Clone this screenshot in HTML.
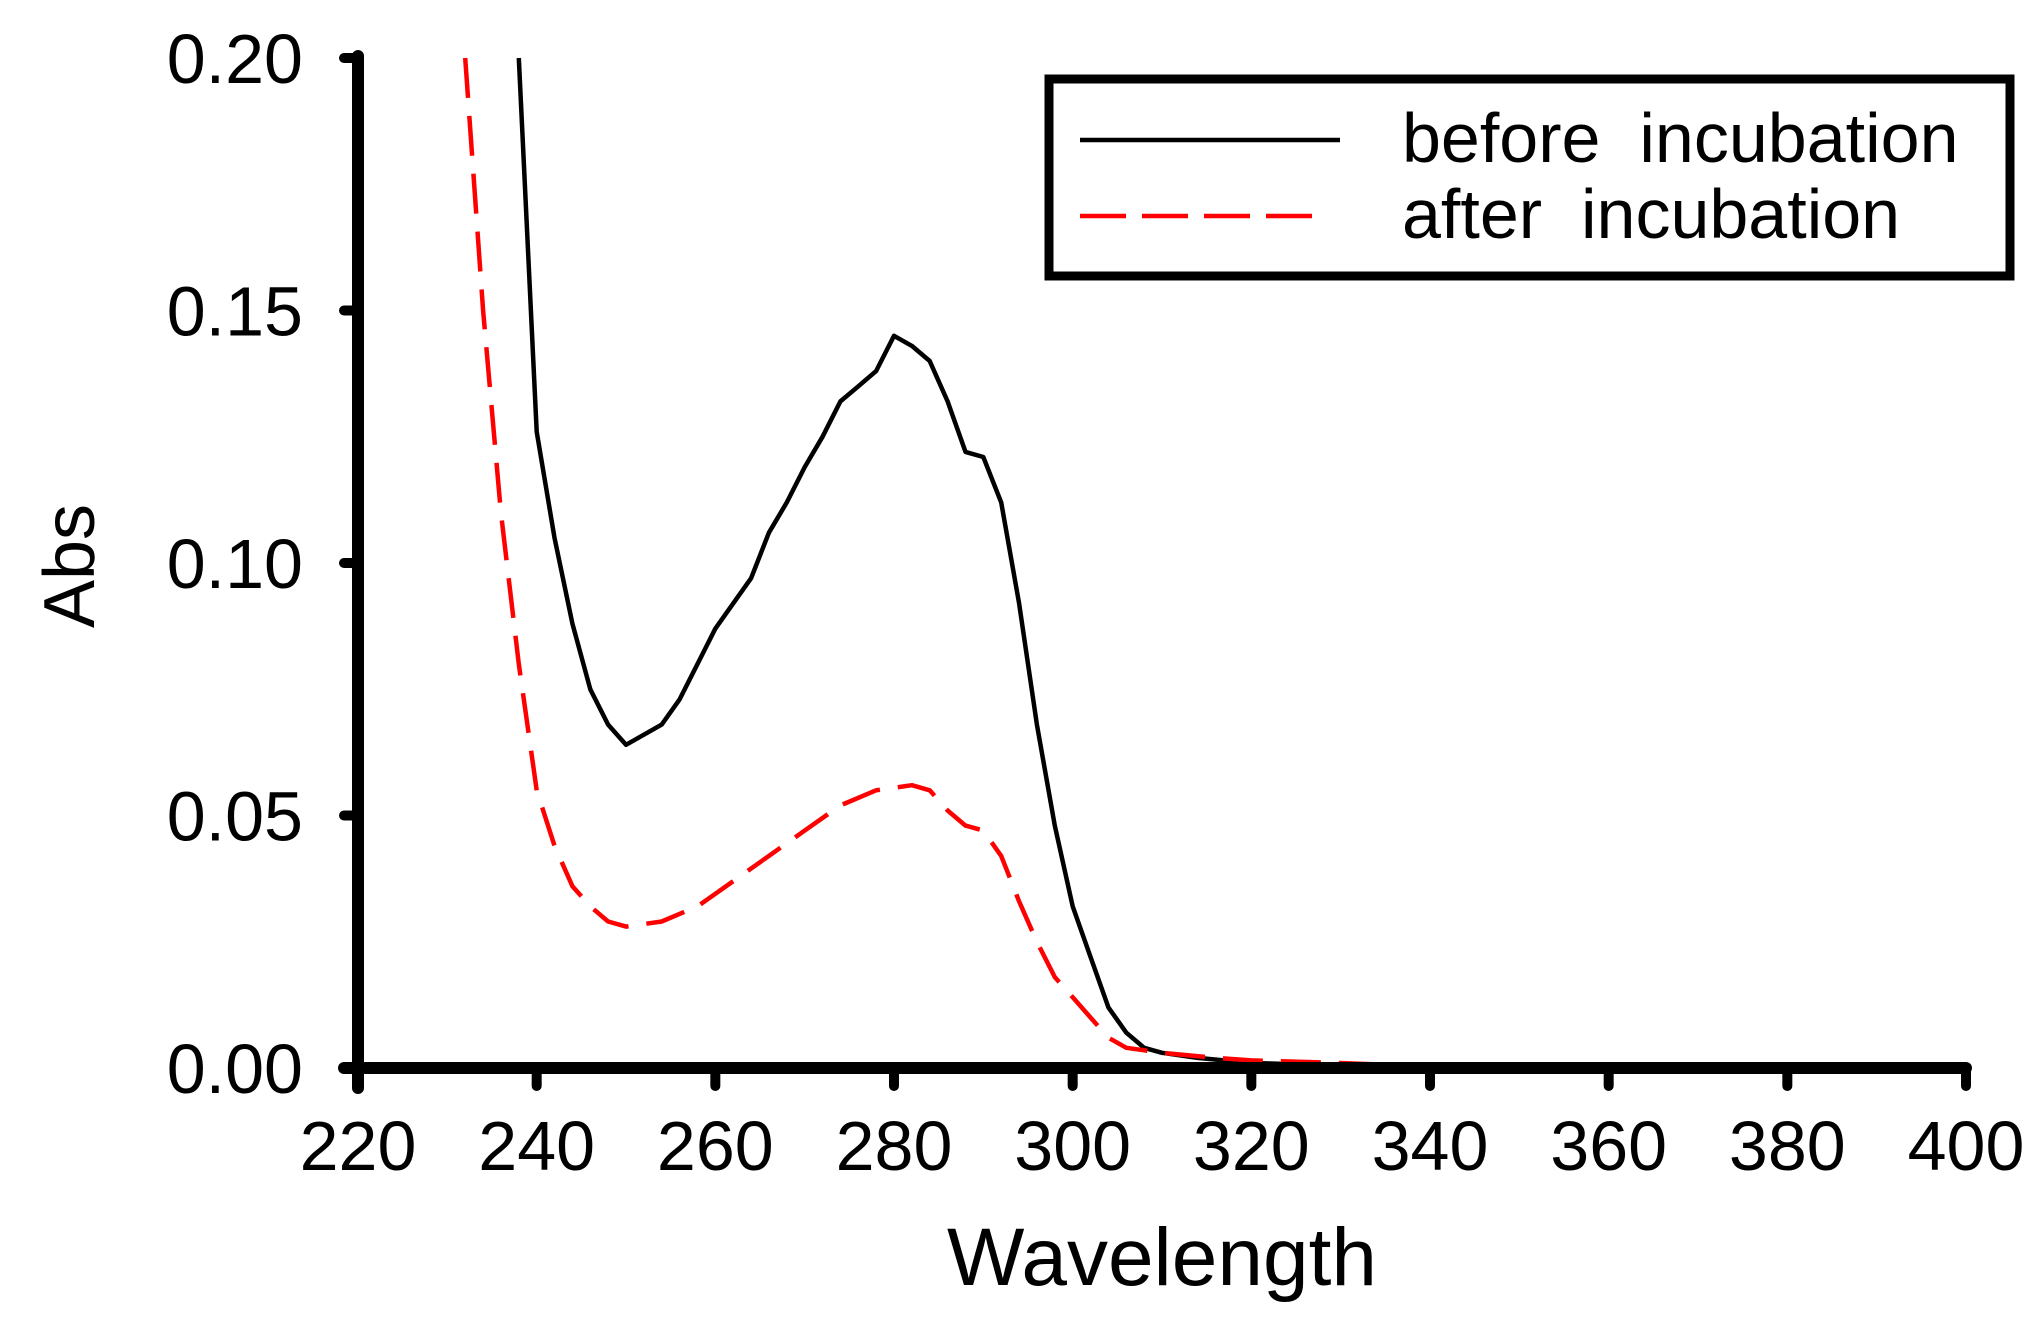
<!DOCTYPE html>
<html><head><meta charset="utf-8"><style>
html,body{margin:0;padding:0;background:#fff}
svg{display:block;font-family:"Liberation Sans",Arial,sans-serif}
</style></head><body>
<svg id="chart" width="2040" height="1318" viewBox="0 0 2040 1318" xmlns="http://www.w3.org/2000/svg">
<g id="marks"></g>
<g id="axes"></g>
<g>
<rect x="1049" y="79" width="961" height="197" fill="#fff" stroke="#000" stroke-width="9"/>
<line x1="1080" y1="140" x2="1340" y2="140" stroke="#000" stroke-width="4.5"/>
<text x="1402" y="162" font-size="70">before&#160; incubation</text>
<line x1="1080" y1="216" x2="1320" y2="216" stroke="#ff0000" stroke-width="4.5" stroke-dasharray="46,16"/>
<text x="1402" y="238" font-size="70">after&#160; incubation</text>
</g>
<text x="1162" y="1285" font-size="82" text-anchor="middle">Wavelength</text>
<text transform="translate(94,566) rotate(-90)" font-size="72" text-anchor="middle">Abs</text>
</svg>
<script>
const xTicks=[220,240,260,280,300,320,340,360,380,400];
const yTicks=[0,0.05,0.10,0.15,0.20];
const yTickLabels=["0.00","0.05","0.10","0.15","0.20"];
const beforeWl=[238,240,242,244,246,248,250,252,254,256,258,260,262,264,266,268,270,272,274,276,278,280,282,284,286,288,290,292,294,296,298,300,302,304,306,308,310,314,320,330,347];
const beforeAbs=[0.20,0.126,0.105,0.088,0.075,0.068,0.064,0.066,0.068,0.073,0.080,0.087,0.092,0.097,0.106,0.112,0.119,0.125,0.132,0.135,0.138,0.145,0.143,0.140,0.132,0.122,0.121,0.112,0.092,0.068,0.048,0.032,0.022,0.012,0.007,0.004,0.003,0.002,0.001,0.0005,0.0003];
const afterWl=[232,234,236,238,240,242,244,246,248,250,254,258,262,266,270,274,278,282,284,286,288,290,292,294,296,298,300,302,304,306,310,316,320,330,340,347];
const afterAbs=[0.20,0.15,0.11,0.08,0.055,0.044,0.036,0.032,0.029,0.028,0.029,0.032,0.037,0.042,0.047,0.052,0.055,0.056,0.055,0.051,0.048,0.047,0.042,0.033,0.025,0.018,0.014,0.010,0.006,0.004,0.003,0.002,0.0015,0.001,0.0003,0.0002];
const afterTailWl=[397,400];
const afterTailAbs=[0,0];

const X0=358,X1=1966,Y0=1068,Y1=58;
const xs=w=>X0+(w-220)/(400-220)*(X1-X0);
const ys=a=>Y0-a/0.20*(Y0-Y1);
const NS="http://www.w3.org/2000/svg";
const marks=document.getElementById('marks');
const axes=document.getElementById('axes');
function mk(tag,attrs,parent){const e=document.createElementNS(NS,tag);for(const k in attrs)e.setAttribute(k,attrs[k]);parent.appendChild(e);return e;}
function pathD(wl,ab){return wl.map((w,i)=>(i?'L':'M')+xs(w).toFixed(1)+','+ys(ab[i]).toFixed(1)).join(' ');}

const pb=mk('path',{d:pathD(beforeWl,beforeAbs),fill:'none',stroke:'#000','stroke-width':4.5,'stroke-linejoin':'round'},marks);


const pa=mk('path',{d:pathD(afterWl,afterAbs),fill:'none',stroke:'#ff0000','stroke-width':4.5,'stroke-dasharray':'40,18','stroke-linejoin':'round'},marks);


const pt=mk('path',{d:pathD(afterTailWl,afterTailAbs),fill:'none',stroke:'#ff0000','stroke-width':5,'stroke-dasharray':'14,4'},marks);



const ya=mk('line',{x1:X0,y1:Y1-2,x2:X0,y2:Y0+20,stroke:'#000','stroke-width':12,'stroke-linecap':'round'},axes);


const xa=mk('line',{x1:X0-14,y1:Y0,x2:X1,y2:Y0,stroke:'#000','stroke-width':12,'stroke-linecap':'round'},axes);


xTicks.forEach(t=>{
  const l=mk('line',{x1:xs(t),y1:Y0,x2:xs(t),y2:Y0+18,stroke:'#000','stroke-width':10,'stroke-linecap':'round'},axes);
  
  
  const tx=mk('text',{x:xs(t),y:1170,'font-size':70,'text-anchor':'middle'},axes);
  tx.textContent=t;
  
  
});
yTicks.forEach((t,i)=>{
  const l=mk('line',{x1:X0-14,y1:ys(t),x2:X0,y2:ys(t),stroke:'#000','stroke-width':10,'stroke-linecap':'round'},axes);
  
  
  const tx=mk('text',{x:303,y:ys(t)+25,'font-size':70,'text-anchor':'end'},axes);
  tx.textContent=yTickLabels[i];
  
  
});
</script>
</body></html>
